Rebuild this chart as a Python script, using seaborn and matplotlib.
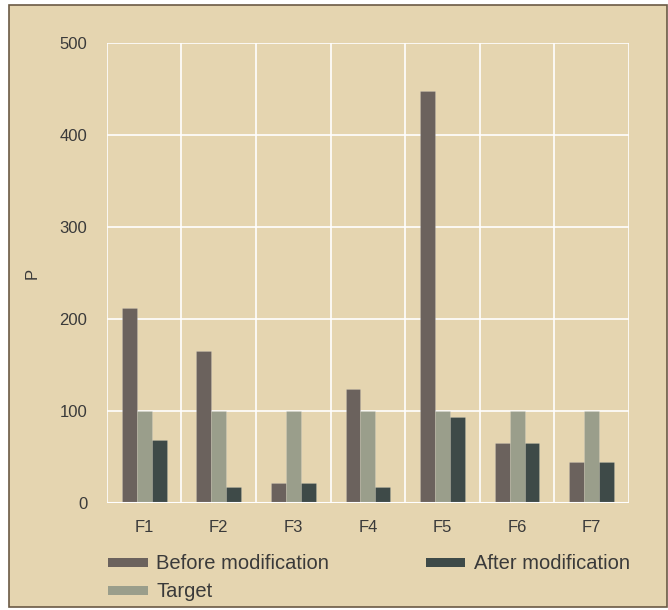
import matplotlib.pyplot as plt
import matplotlib.patches as mpatches
import seaborn as sns
import pandas as pd

categories = ["F1", "F2", "F3", "F4", "F5", "F6", "F7"]
before = [212, 165, 22, 124, 448, 65, 45]
target = [100, 100, 100, 100, 100, 100, 100]
after = [68, 17, 22, 17, 93, 65, 45]

series = ["Before modification", "Target", "After modification"]
colors = ["#6b625d", "#9a9e8b", "#3e4a48"]
bg = "#e5d5b0"

rows = []
for name, vals in zip(series, [before, target, after]):
    for c, v in zip(categories, vals):
        rows.append({"cat": c, "series": name, "P": v})
df = pd.DataFrame(rows)

sns.set_theme(style="white")
plt.rcParams['font.family'] = ['Liberation Sans', 'DejaVu Sans']

fig = plt.figure(figsize=(6.68, 6.10), dpi=100)
fig.patch.set_facecolor("white")
fig.patches.append(mpatches.Rectangle((9 / 668, 3 / 610), 658 / 668, 602 / 610,
                                      transform=fig.transFigure, facecolor=bg,
                                      edgecolor="#6b5a45", linewidth=1.2, zorder=-1))

ax = fig.add_axes([0.160, 0.1754, 0.7816, 0.7541])
ax.set_facecolor(bg)
sns.barplot(data=df, x="cat", y="P", hue="series", hue_order=series,
            palette=colors, width=0.6, ax=ax, saturation=1, legend=False,
            edgecolor=(1, 1, 1, 0.15), linewidth=0.6, zorder=3)

ax.set_ylim(0, 500)
ax.set_xlim(-0.5, 6.5)
ax.set_yticks([0, 100, 200, 300, 400, 500])
for x in [i - 0.5 for i in range(8)]:
    ax.axvline(x, color="white", lw=1.2, zorder=1)
for y in [100, 200, 300, 400, 500]:
    ax.axhline(y, color="white", lw=1.2, zorder=1)
ax.axhline(0, color="white", lw=1.5, zorder=4)
for s in ax.spines.values():
    s.set_visible(False)

ax.tick_params(axis="both", length=0, labelsize=12, colors="#3a3a3a")
ax.tick_params(axis="x", pad=12)
ax.tick_params(axis="y", pad=14)
ax.set_xlabel("")
ax.set_ylabel("P", fontsize=12, color="#3a3a3a", labelpad=14)

handles = [mpatches.Patch(facecolor=c, edgecolor="none", label=s) for c, s in zip(colors, series)]
fig.legend(handles=handles, ncol=2, loc="upper left", bbox_to_anchor=(0.135, 0.121),
           frameon=False, fontsize=14.5, handlelength=1.97, handleheight=0.32,
           columnspacing=4.8, labelspacing=0.45, handletextpad=0.41, labelcolor="#3a3a3a")

fig.savefig("out.png", dpi=100)
